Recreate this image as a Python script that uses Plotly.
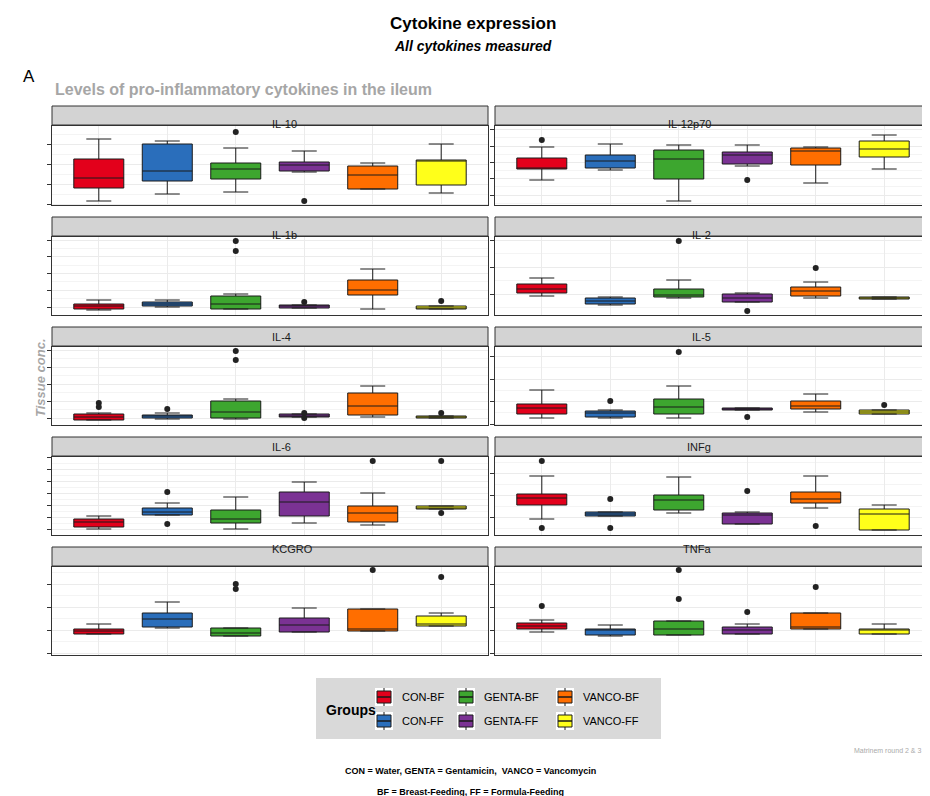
import plotly.graph_objects as go

W, H = 930, 796

groups = ["CON-BF", "CON-FF", "GENTA-BF", "GENTA-FF", "VANCO-BF", "VANCO-FF"]
colors = ["#E3001B", "#2A6EBB", "#3DA62F", "#7B3294", "#FF6E00", "#FFFF1A"]

panels = ["IL-10", "IL-12p70", "IL-1b", "IL-2", "IL-4", "IL-5", "IL-6", "INFg", "KCGRO", "TNFa"]

# per panel, per group: lowerfence, q1, median, q3, upperfence (panel units)
stats = {
    "IL-10":    [[4, 17, 27, 46, 66], [11, 24, 34, 61, 64], [13, 26, 36, 42, 57], [33, 34, 40, 43, 54], [16, 16, 30, 39, 42], [12, 20, 44, 45, 61]],
    "IL-12p70": [[25, 36, 37, 47, 58], [35, 37, 44, 50, 61], [4, 26, 46, 55, 60], [39, 41, 50, 53, 60], [22, 40, 54, 57, 58], [36, 48, 56, 64, 70]],
    "IL-1b":    [[5, 6, 9, 11, 15], [8, 9, 11, 13, 15], [6, 6, 11, 19, 21], [7, 7, 9, 10, 10], [6, 20, 25, 35, 46], [6, 6, 7, 9, 9]],
    "IL-2":     [[19, 22, 26, 31, 37], [10, 11, 14, 17, 18], [17, 18, 20, 26, 35], [13, 13, 17, 21, 22], [17, 19, 24, 28, 33], [16, 16, 17, 18, 18]],
    "IL-4":     [[5, 5, 8, 11, 12], [6, 7, 9, 10, 12], [6, 7, 13, 24, 26], [8, 8, 9, 11, 11], [8, 10, 19, 32, 39], [7, 7, 8, 9, 9]],
    "IL-5":     [[7, 11, 17, 21, 35], [7, 8, 12, 14, 15], [7, 11, 18, 26, 39], [15, 15, 16, 17, 17], [13, 16, 19, 24, 31], [11, 11, 13, 15, 15]],
    "IL-6":     [[6, 8, 13, 16, 19], [20, 20, 23, 27, 32], [6, 12, 16, 25, 38], [12, 19, 33, 43, 53], [10, 13, 22, 29, 42], [26, 26, 27, 29, 29]],
    "INFg":     [[16, 30, 37, 41, 59], [19, 19, 21, 23, 23], [22, 25, 35, 40, 58], [11, 11, 20, 22, 23], [27, 32, 36, 43, 59], [5, 5, 21, 26, 30]],
    "KCGRO":    [[21, 21, 24, 26, 31], [27, 28, 36, 42, 53], [19, 19, 22, 27, 27], [23, 23, 30, 37, 47], [24, 24, 26, 46, 46], [29, 29, 31, 39, 42]],
    "TNFa":     [[23, 26, 29, 32, 35], [19, 20, 25, 26, 30], [20, 20, 26, 34, 34], [21, 21, 25, 28, 31], [26, 26, 28, 42, 42], [21, 21, 25, 26, 31]],
}

outliers = {
    "IL-10":    [[], [], [73], [4], [], []],
    "IL-12p70": [[65], [], [], [25], [], []],
    "IL-1b":    [[], [], [74, 64], [13], [], [14]],
    "IL-2":     [[], [], [74], [4], [47], []],
    "IL-4":     [[22, 18], [16], [74, 65], [12, 7], [], [12]],
    "IL-5":     [[], [24], [73], [8], [], [20]],
    "IL-6":     [[], [43, 11], [], [], [74], [74, 22]],
    "INFg":     [[74, 7], [36, 7], [], [44], [9], []],
    "KCGRO":    [[], [], [71, 66], [], [85], [78]],
    "TNFa":     [[49], [], [85, 56], [43], [68], []],
}

# y-range and tick spacing per panel
yrange = {"IL-10": 79, "IL-12p70": 79, "IL-1b": 78, "IL-2": 78, "IL-4": 78, "IL-5": 78,
          "IL-6": 78, "INFg": 78, "KCGRO": 88, "TNFa": 88}
ytick = {"IL-10": (1, 20), "IL-12p70": (10, 16.3), "IL-1b": (8, 16.7), "IL-2": (21, 27),
         "IL-4": (7, 17), "IL-5": (1, 22.5), "IL-6": (6, 12), "INFg": (18, 22),
         "KCGRO": (2, 23), "TNFa": (2, 23)}

# panel pixel geometry
cols_px = [(44, 480), (487, 923)]
rows_px = [(118, 197), (229, 307), (339, 417), (449, 527), (559, 647)]
STRIP = 20

fig = go.Figure()
layout = {}
shapes = []
ann = []

for i, p in enumerate(panels):
    r, c = divmod(i, 2)
    n = i + 1
    xa = "x" if n == 1 else f"x{n}"
    ya = "y" if n == 1 else f"y{n}"
    x0, x1 = cols_px[c]
    y0, y1 = rows_px[r]
    for g, col, s, o in zip(groups, colors, stats[p], outliers[p]):
        fig.add_trace(go.Box(
            x=[g], lowerfence=[s[0]], q1=[s[1]], median=[s[2]], q3=[s[3]], upperfence=[s[4]],
            fillcolor=col, line=dict(color="#1a1a1a", width=1), width=0.73,
            boxpoints=False, showlegend=False, xaxis=xa, yaxis=ya, hoverinfo="skip"))
        if o:
            fig.add_trace(go.Scatter(x=[g] * len(o), y=o, mode="markers",
                                     marker=dict(color="#222", size=6), showlegend=False,
                                     xaxis=xa, yaxis=ya))
    kx = "xaxis" if n == 1 else f"xaxis{n}"
    ky = "yaxis" if n == 1 else f"yaxis{n}"
    layout[kx] = dict(domain=[x0 / W, x1 / W], anchor=ya, type="category",
                      categoryorder="array", categoryarray=groups, showticklabels=False,
                      showgrid=True, gridcolor="#EBEBEB", showline=True, linecolor="#333",
                      mirror=True, linewidth=1, zeroline=False, ticks="")
    t0, dt = ytick[p]
    layout[ky] = dict(domain=[1 - y1 / H, 1 - y0 / H], anchor=xa, range=[0, yrange[p]],
                      showticklabels=False, ticks="outside", ticklen=4, tickcolor="#333",
                      tick0=t0, dtick=dt, showgrid=True, gridcolor="#EBEBEB",
                      minor=dict(showgrid=True, gridcolor="#F4F4F4", dtick=dt / 2, tick0=t0),
                      showline=True, linecolor="#333", mirror=True, linewidth=1, zeroline=False)
    shapes.append(dict(type="rect", xref="paper", yref="paper", x0=x0 / W, x1=x1 / W,
                       y0=1 - (y0 - 1) / H, y1=1 - (y0 - STRIP) / H,
                       fillcolor="#D3D3D3", line=dict(color="#333", width=1)))
    ann.append(dict(text=p, x=(x0 + x1) / 2 / W, y=1 - (y0 - STRIP / 2) / H, xref="paper",
                    yref="paper", showarrow=False, font=dict(size=11, color="#1a1a1a")))

def txt(t, x, y, size, color="black", xanchor="center", angle=0):
    ann.append(dict(text=t, x=x / W, y=1 - y / H, xref="paper", yref="paper", showarrow=False,
                    xanchor=xanchor, yanchor="middle", textangle=angle,
                    font=dict(size=size, color=color)))

txt("<b>Cytokine expression</b>", 465, 16, 17)
txt("<b><i>All cytokines measured</i></b>", 465, 38, 14)
txt("A", 13, 68, 17, xanchor="left")
txt("<b>Levels of pro-inflammatory cytokines in the ileum</b>", 45, 82, 16, "#A6A6A6", "left")
txt("<b><i>Tissue conc.</i></b>", 33, 370, 13, "#A6A6A6", angle=-90)
txt("Matrinem round 2 &amp; 3", 915, 742, 7, "#AAAAAA", "right")
txt("<b>CON = Water, GENTA = Gentamicin,  VANCO = Vancomycin</b>", 462, 763, 9)
txt("<b>BF = Breast-Feeding, FF = Formula-Feeding</b>", 462, 784, 9)

# legend
shapes.append(dict(type="rect", xref="paper", yref="paper", x0=308 / W, x1=653 / W,
                   y0=1 - 731 / H, y1=1 - 670 / H, fillcolor="#D9D9D9", line=dict(width=0)))
txt("<b>Groups</b>", 316, 702, 14, xanchor="left")
key_x = [376, 458, 557]
key_y = [689, 713]
for k, (g, col) in enumerate(zip(groups, colors)):
    cx, cy = key_x[k // 2], key_y[k % 2]
    shapes.append(dict(type="rect", xref="paper", yref="paper", x0=(cx - 9) / W, x1=(cx + 9) / W,
                       y0=1 - (cy + 9) / H, y1=1 - (cy - 9) / H, fillcolor="white", line=dict(width=0)))
    shapes.append(dict(type="line", xref="paper", yref="paper", x0=cx / W, x1=cx / W,
                       y0=1 - (cy + 9) / H, y1=1 - (cy - 9) / H, line=dict(color="#1a1a1a", width=1)))
    shapes.append(dict(type="rect", xref="paper", yref="paper", x0=(cx - 7) / W, x1=(cx + 7) / W,
                       y0=1 - (cy + 6) / H, y1=1 - (cy - 6) / H, fillcolor=col,
                       line=dict(color="#1a1a1a", width=1)))
    shapes.append(dict(type="line", xref="paper", yref="paper", x0=(cx - 7) / W, x1=(cx + 7) / W,
                       y0=1 - cy / H, y1=1 - cy / H, line=dict(color="#1a1a1a", width=1.5)))
    txt(g, cx + 16, cy, 11, xanchor="left")

fig.update_layout(width=W, height=H, margin=dict(l=0, r=0, t=0, b=0),
                  plot_bgcolor="white", paper_bgcolor="white", showlegend=False,
                  font=dict(family="Liberation Sans, Arial, sans-serif"),
                  shapes=shapes, annotations=ann, **layout)
fig.write_html("out.html")
